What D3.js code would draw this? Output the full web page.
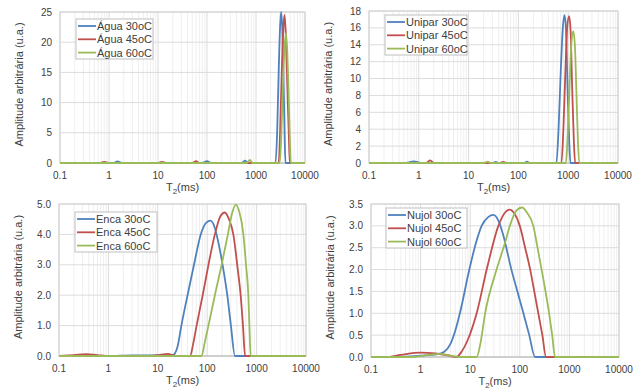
<!DOCTYPE html>
<html>
<head>
<meta charset="utf-8">
<script src="https://cdn.jsdelivr.net/npm/d3@7"></script>
<style>
  body { margin: 0; background: #fff; }
  text { font-family: "Liberation Sans", Arial, sans-serif; fill: #404040; }
</style>
</head>
<body>
<script>
// T2 (ms) / amplitude pairs
const agua30 = [[0.1,0],[1.2,0],[1.5,0.25],[1.9,0],[80,0],[100,0.3],[120,0],[500,0],[600,0.4],[700,0],[2500,0],[2700,5],[2900,15],[3100,22.5],[3250,25],[3450,22],[3650,14],[3850,4],[4000,0],[10000,0]];
const agua45 = [[0.1,0],[0.65,0],[0.8,0.2],[1,0],[10,0],[12,0.2],[15,0],[50,0],[60,0.3],[70,0],[2900,0],[3100,5],[3350,15],[3600,22],[3800,24.5],[4050,21.5],[4350,13],[4700,4],[4900,0],[10000,0]];
const agua60 = [[0.1,0],[650,0],[750,0.5],[850,0],[3050,0],[3300,5],[3550,13],[3850,19.5],[4080,21.5],[4350,18.5],[4650,11],[4950,3],[5150,0],[10000,0]];

const unipar30 = [[0.1,0],[0.55,0],[0.8,0.2],[1.1,0],[30,0],[35,0.12],[40,0],[130,0],[150,0.15],[170,0],[580,0],[640,4],[710,11],[780,16],[840,17.5],[900,16],[970,9],[1050,2.5],[1110,0],[10000,0]];
const unipar45 = [[0.1,0],[1.4,0],[1.7,0.3],[2,0],[40,0],[50,0.12],[60,0],[730,0],[800,4],[880,11],[960,16.3],[1045,17.4],[1120,15.5],[1200,9],[1300,2.5],[1380,0],[10000,0]];
const unipar60 = [[0.1,0],[20,0],[24,0.15],[28,0],[900,0],[980,3.5],[1070,9.5],[1170,14.5],[1265,15.6],[1360,14],[1460,8.5],[1570,2.5],[1670,0],[10000,0]];

const enca30 = [[0.1,0],[1,0],[3,0.02],[10,0.02],[20,0.03],[25,0.3],[30,1.0],[40,2.0],[54,3.0],[74,4.0],[95,4.38],[117,4.45],[140,4.25],[165,3.8],[205,3.0],[255,2.0],[302,1.0],[365,0],[10000,0]];
const enca45 = [[0.1,0],[0.2,0.03],[0.35,0.06],[0.6,0.03],[1,0],[5,0],[10,0.03],[16,0.07],[20,0.03],[25,0],[45,0],[52,0.4],[61,1.0],[81,2.0],[106,3.0],[143,4.0],[185,4.6],[228,4.72],[275,4.5],[338,4.0],[405,3.0],[475,2.0],[530,1.0],[585,0],[10000,0]];
const enca60 = [[0.1,0],[77,0],[88,0.4],[106,1.0],[143,2.0],[196,3.0],[262,4.0],[320,4.7],[380,4.98],[445,4.75],[540,4.0],[610,3.0],[680,2.0],[715,1.0],[760,0],[10000,0]];

const nujol30 = [[0.1,0],[0.5,0.01],[1,0.03],[2.1,0.06],[3,0.12],[4,0.3],[5,0.6],[6.2,1.0],[9.6,2.0],[13,2.6],[17,3.0],[23,3.2],[29.4,3.25],[37,3.12],[46,2.8],[56,2.4],[66,2.05],[87,1.55],[115,1.05],[155,0.5],[203,0],[10000,0]];
const nujol45 = [[0.1,0],[0.2,0],[0.4,0.05],[1,0.1],[2,0.08],[3.5,0.04],[5.3,0],[6.5,0.1],[9,0.4],[13.5,1.0],[21.5,2.0],[37,3.0],[50,3.3],[62,3.37],[78,3.28],[100,3.0],[128,2.5],[162,2.0],[196,1.5],[236,1.0],[285,0.5],[338,0],[10000,0]];
const nujol60 = [[0.1,0],[0.6,0],[1.5,0.05],[2.5,0.07],[4,0.03],[6,0],[13.5,0],[16,0.3],[20,1.0],[34,2.0],[50,2.6],[63,3.0],[85,3.35],[112,3.42],[140,3.3],[187,3.0],[228,2.5],[275,2.0],[330,1.5],[390,1.0],[450,0.5],[513,0],[10000,0]];

const xTicks = [0.1, 1, 10, 100, 1000, 10000];
const colors = ["#4F81BD", "#C0504D", "#9BBB59"];
const temps = ["30oC", "45oC", "60oC"];

const panels = [
  {name: "Água",   series: [agua30, agua45, agua60],       yMax: 25,  yStep: 5,   fmt: d3.format("d"),
   box: {x0: 60, x1: 305, y0: 12, y1: 163}, legend: {x: 76, y: 19, w: 77}},
  {name: "Unipar", series: [unipar30, unipar45, unipar60], yMax: 18,  yStep: 2,   fmt: d3.format("d"),
   box: {x0: 369, x1: 618, y0: 11, y1: 163}, legend: {x: 385, y: 15, w: 82}},
  {name: "Enca",   series: [enca30, enca45, enca60],       yMax: 5,   yStep: 1,   fmt: d3.format(".1f"),
   box: {x0: 59, x1: 306, y0: 204, y1: 356}, legend: {x: 75, y: 212, w: 82}},
  {name: "Nujol",  series: [nujol30, nujol45, nujol60],    yMax: 3.5, yStep: 0.5, fmt: d3.format(".1f"),
   box: {x0: 371, x1: 619, y0: 204, y1: 357}, legend: {x: 386, y: 208, w: 81}}
];

const svg = d3.select("body").append("svg")
  .attr("width", 640).attr("height", 390);
svg.append("rect").attr("width", 640).attr("height", 390).attr("fill", "#fff");

panels.forEach(function(p, pi) {
  const b = p.box;
  const x = d3.scaleLog().domain([0.1, 10000]).range([b.x0, b.x1]);
  const y = d3.scaleLinear().domain([0, p.yMax]).range([b.y1, b.y0]);
  const g = svg.append("g");

  // minor vertical grid
  let minor = [];
  for (let dec = 0.1; dec < 10000; dec *= 10) {
    for (let k = 2; k <= 9; k++) minor.push(dec * k);
  }
  g.selectAll(".minor").data(minor).enter().append("line")
    .attr("x1", d => x(d)).attr("x2", d => x(d))
    .attr("y1", b.y0).attr("y2", b.y1)
    .attr("stroke", "#efefef").attr("stroke-width", 1);
  g.selectAll(".major").data(xTicks).enter().append("line")
    .attr("x1", d => x(d)).attr("x2", d => x(d))
    .attr("y1", b.y0).attr("y2", b.y1)
    .attr("stroke", "#dcdcdc").attr("stroke-width", 1);

  const yTicks = d3.range(0, p.yMax + p.yStep / 2, p.yStep);
  g.selectAll(".hgrid").data(yTicks).enter().append("line")
    .attr("x1", b.x0).attr("x2", b.x1)
    .attr("y1", d => y(d)).attr("y2", d => y(d))
    .attr("stroke", "#dcdcdc").attr("stroke-width", 1);

  g.append("rect")
    .attr("x", b.x0).attr("y", b.y0)
    .attr("width", b.x1 - b.x0).attr("height", b.y1 - b.y0)
    .attr("fill", "none").attr("stroke", "#d0d0d0");
  g.append("line")
    .attr("x1", b.x0).attr("x2", b.x1).attr("y1", b.y1).attr("y2", b.y1)
    .attr("stroke", "#bfbfbf");

  // tick labels
  g.selectAll(".xl").data(xTicks).enter().append("text")
    .attr("x", d => x(d)).attr("y", b.y1 + 16)
    .attr("text-anchor", "middle").attr("font-size", 10)
    .text(d => String(d));
  g.selectAll(".yl").data(yTicks).enter().append("text")
    .attr("x", b.x0 - 8).attr("y", d => y(d) + 3.5)
    .attr("text-anchor", "end").attr("font-size", 10)
    .text(d => p.fmt(d));

  // axis titles
  const xt = g.append("text")
    .attr("x", (b.x0 + b.x1) / 2).attr("y", b.y1 + 28)
    .attr("text-anchor", "middle").attr("font-size", 11);
  xt.append("tspan").text("T");
  xt.append("tspan").attr("font-size", 8).attr("dy", 2.5).text("2");
  xt.append("tspan").attr("dy", -2.5).text("(ms)");

  g.append("text")
    .attr("transform", "translate(" + (b.x0 - 37) + "," + ((b.y0 + b.y1) / 2 - 3) + ") rotate(-90)")
    .attr("text-anchor", "middle").attr("font-size", 11)
    .text("Amplitude arbitrária (u.a.)");

  // curves
  const line = d3.line()
    .x(d => x(d[0])).y(d => y(d[1]))
    .curve(d3.curveMonotoneX);
  g.selectAll(".curve").data(p.series).enter().append("path")
    .attr("d", line)
    .attr("fill", "none")
    .attr("stroke", (d, i) => colors[i])
    .attr("stroke-width", 1.8);

  // legend
  const L = p.legend;
  const lg = g.append("g");
  lg.append("rect")
    .attr("x", L.x).attr("y", L.y).attr("width", L.w).attr("height", 40)
    .attr("fill", "#fff").attr("stroke", "#bfbfbf");
  temps.forEach(function(t, i) {
    const ly = L.y + 7 + i * 13.3;
    lg.append("line")
      .attr("x1", L.x + 2).attr("x2", L.x + 20)
      .attr("y1", ly).attr("y2", ly)
      .attr("stroke", colors[i]).attr("stroke-width", 1.8);
    lg.append("text")
      .attr("x", L.x + 21).attr("y", ly + 4)
      .attr("font-size", 11)
      .text(p.name + " " + t);
  });
});
</script>
</body>
</html>
